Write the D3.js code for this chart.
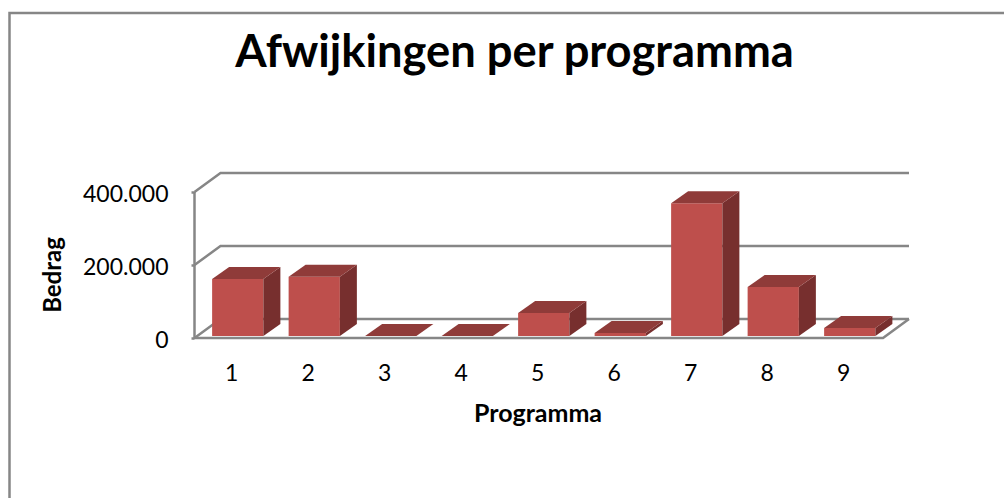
<!DOCTYPE html>
<html>
<head>
<meta charset="utf-8">
<script src="https://cdn.jsdelivr.net/npm/d3@7"></script>
<style>
    body { margin: 0; background: #fff; }
    text { font-family: Lato, "Open Sans", sans-serif; fill: #000; }
    .axis .domain { display: none; }
    .axis text { font-size: 23px; }
</style>
</head>
<body>
<div id="chart"></div>
<script>
const categories = ["1", "2", "3", "4", "5", "6", "7", "8", "9"];
const values = [156000, 162000, 0, 0, 63000, 8000, 364000, 134000, 22000];
const yTicks = [0, 200000, 400000];

const width = 1004, height = 498;
const grey = "#868686";

// front plane of the fake 3d box
const plot = {left: 194.5, right: 883, top: 192, bottom: 338};
const wall = {dx: 26, dy: 19};
const depth = {dx: 17, dy: 12};
const barShift = {x: 5, y: -2};

const svg = d3.select("#chart").append("svg")
    .attr("width", width)
    .attr("height", height);

const nl = d3.formatLocale({decimal: ",", thousands: ".", grouping: [3], currency: ["€", ""]});

const xScale = d3.scaleBand()
    .domain(categories)
    .range([plot.left, plot.right])
    .paddingInner(0.33)
    .paddingOuter(0.165);

const yScale = d3.scaleLinear()
    .domain([0, 400000])
    .range([plot.bottom, plot.top]);

// chart frame, only top and left show
svg.append("path")
    .attr("d", `M9.5,${height}V13H${width}`)
    .attr("fill", "none")
    .attr("stroke", grey)
    .attr("stroke-width", 2.5);

// back wall, side wall and floor
const gridLine = d3.line();
svg.append("g").selectAll("path")
    .data(yTicks)
    .join("path")
    .attr("fill", "none")
    .attr("stroke", grey)
    .attr("stroke-width", 2.5)
    .attr("d", d => gridLine([
        [plot.left, yScale(d)],
        [plot.left + wall.dx, yScale(d) - wall.dy],
        [plot.right + wall.dx, yScale(d) - wall.dy]
    ]));

svg.append("path")
    .attr("fill", "none")
    .attr("stroke", grey)
    .attr("stroke-width", 2.5)
    .attr("d", gridLine([
        [plot.left, plot.top],
        [plot.left, plot.bottom],
        [plot.right, plot.bottom],
        [plot.right + wall.dx, plot.bottom - wall.dy]
    ]));

const yAxis = d3.axisLeft(yScale)
    .tickValues(yTicks)
    .tickFormat(nl.format(",d"))
    .tickSize(3)
    .tickPadding(23);

const yG = svg.append("g")
    .attr("class", "axis")
    .attr("transform", `translate(${plot.left},0)`)
    .call(yAxis);

yG.selectAll("line")
    .attr("stroke", grey)
    .attr("stroke-width", 2.5);

yG.selectAll("text")
    .attr("y", 2);

const xAxis = d3.axisBottom(xScale)
    .tickSize(0)
    .tickPadding(27);

svg.append("g")
    .attr("class", "axis")
    .attr("transform", `translate(-1,${plot.bottom})`)
    .call(xAxis);

// bars
const bars = svg.append("g").selectAll("g")
    .data(categories.map((c, i) => ({c: c, v: values[i]})))
    .join("g")
    .attr("transform", `translate(${barShift.x},${barShift.y})`);

const bw = xScale.bandwidth();

bars.append("path")
    .attr("fill", "#BE4F4C")
    .attr("d", d => `M${xScale(d.c)},${yScale(d.v)}h${bw}V${yScale(0)}h${-bw}z`);

bars.append("path")
    .attr("fill", "#772F2E")
    .attr("d", d => `M${xScale(d.c) + bw},${yScale(d.v)}l${depth.dx},${-depth.dy}V${yScale(0) - depth.dy}l${-depth.dx},${depth.dy}z`);

bars.append("path")
    .attr("fill", "#8F3B39")
    .attr("d", d => `M${xScale(d.c)},${yScale(d.v)}l${depth.dx},${-depth.dy}h${bw}l${-depth.dx},${depth.dy}z`);

// titles
svg.append("text")
    .attr("x", 514.5)
    .attr("y", 67)
    .attr("text-anchor", "middle")
    .style("font-size", "45.3px")
    .style("font-weight", "bold")
    .text("Afwijkingen per programma");

svg.append("text")
    .attr("x", 538)
    .attr("y", 422)
    .attr("text-anchor", "middle")
    .style("font-size", "25px")
    .style("font-weight", "bold")
    .text("Programma");

svg.append("text")
    .attr("transform", "translate(61,275) rotate(-90)")
    .attr("text-anchor", "middle")
    .style("font-size", "24px")
    .style("font-weight", "bold")
    .text("Bedrag");
</script>
</body>
</html>
